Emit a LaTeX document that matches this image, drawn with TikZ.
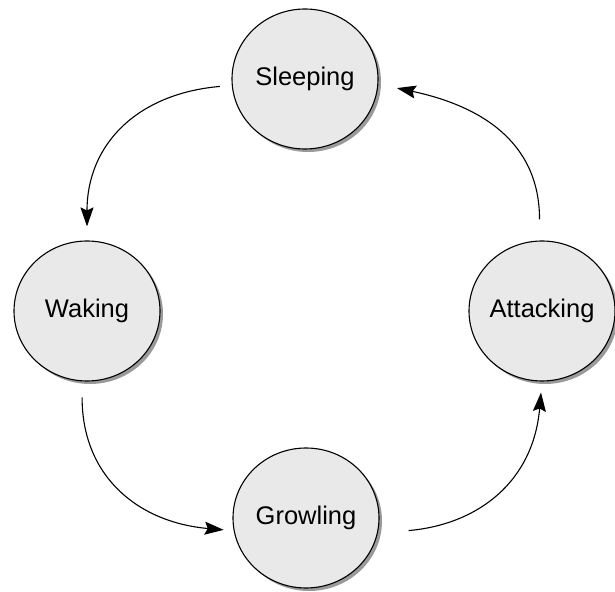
\documentclass[tikz,border=0pt]{standalone}
\usepackage{fontspec}
\setmainfont{Liberation Sans}
\usetikzlibrary{shapes.geometric,shadows,arrows.meta}
\definecolor{statefill}{HTML}{E9E9E9}
\definecolor{shadowgray}{HTML}{9A9A9A}
\tikzset{
  statenode/.style={ellipse, draw=black, line width=1.1pt, fill=statefill,
    minimum width=146pt, minimum height=140pt, inner sep=0pt,
    drop shadow={shadow xshift=3pt, shadow yshift=-3pt, fill=shadowgray, opacity=1}},
  statetext/.style={font=\fontsize{25.5}{30}\selectfont, inner sep=0pt},
  trans/.style={line width=1.1pt, -{Stealth[length=19pt, width=13pt, inset=3pt]}, looseness=1.15}
}
\begin{document}
\begin{tikzpicture}[x=1pt,y=1pt]
\useasboundingbox (0,0) rectangle (615,591);
\node[statenode] (s) at (305,512) {};
\node[statenode] (w) at (87,280) {};
\node[statenode] (a) at (542,280) {};
\node[statenode] (g) at (306,73) {};
\node[statetext] (st) at (s) {Sleeping};
\node[statetext] (wt) at (w) {Waking};
\node[statetext] (at) at (a) {Attacking};
\node[statetext] (gt) at (g) {Growling};
\draw[trans, shorten <=12pt, shorten >=14pt] (s.185) to[out=185, in=90] (w.90);
\draw[trans, shorten <=16pt, shorten >=10pt] (w.266) to[out=-90, in=175] (g.190);
\draw[trans, shorten <=31pt, shorten >=11pt] (g.-12) to[out=5, in=-95] (a.-90);
\draw[trans, shorten <=21pt, shorten >=19pt] (a.92) to[out=90, in=-12] (s.-4);
\end{tikzpicture}
\end{document}
